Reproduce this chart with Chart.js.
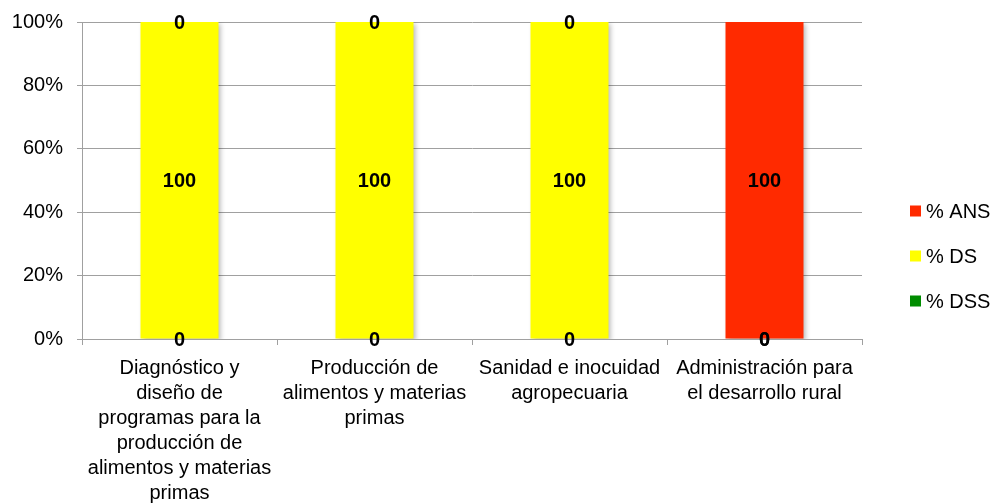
<!DOCTYPE html>
<html>
<head>
<meta charset="utf-8">
<script src="https://cdn.jsdelivr.net/npm/chart.js@4"></script>
<style>
  html, body { margin: 0; padding: 0; background: #fff; }
  #grafico { display: block; }
</style>
</head>
<body>
<canvas id="grafico" width="998" height="503"></canvas>
<script>
// datos
const categorias = [
  ["Diagnóstico y", "diseño de", "programas para la", "producción de", "alimentos y materias", "primas"],
  ["Producción de", "alimentos y materias", "primas"],
  ["Sanidad e inocuidad", "agropecuaria"],
  ["Administración para", "el desarrollo rural"]
];
const serieDSS = [0, 0, 0, 0];
const serieDS = [100, 100, 100, 0];
const serieANS = [0, 0, 0, 100];
const ticksY = [0, 20, 40, 60, 80, 100];

const FUENTE = "'Liberation Sans', Arial, Helvetica, sans-serif";
const GRIS = "#a0a0a0";

// sombra suave de las barras
const sombraBarras = {
  id: "sombraBarras",
  beforeDatasetDraw(chart) {
    const ctx = chart.ctx;
    ctx.save();
    ctx.shadowColor = "rgba(0,0,0,0.28)";
    ctx.shadowBlur = 5;
    ctx.shadowOffsetX = 2;
    ctx.shadowOffsetY = 2;
  },
  afterDatasetDraw(chart) {
    chart.ctx.restore();
  }
};

// etiquetas con el valor de cada segmento
const etiquetas = {
  id: "etiquetas",
  afterDatasetsDraw(chart) {
    const ctx = chart.ctx;
    ctx.save();
    ctx.font = "bold 20px " + FUENTE;
    ctx.fillStyle = "#000";
    ctx.textAlign = "center";
    ctx.textBaseline = "middle";
    chart.data.datasets.forEach((ds, i) => {
      const meta = chart.getDatasetMeta(i);
      meta.data.forEach((barra, j) => {
        const y = (barra.y + barra.base) / 2;
        ctx.fillText(String(ds.data[j]), barra.x, y + 1);
      });
    });
    ctx.restore();
  }
};

// leyenda a la derecha (orden inverso, como en el original)
const leyenda = {
  id: "leyenda",
  afterDraw(chart) {
    const ctx = chart.ctx;
    const lista = chart.data.datasets.slice().reverse();
    ctx.save();
    ctx.font = "20px " + FUENTE;
    ctx.textBaseline = "middle";
    ctx.textAlign = "left";
    lista.forEach((ds, k) => {
      const y = 211 + k * 45;
      ctx.fillStyle = ds.backgroundColor;
      ctx.fillRect(910, y - 5.5, 11, 11);
      ctx.fillStyle = "#000";
      ctx.fillText(ds.label, 926, y + 1);
    });
    ctx.restore();
  }
};

new Chart(document.getElementById("grafico"), {
  type: "bar",
  data: {
    labels: categorias,
    datasets: [
      { label: "% DSS", data: serieDSS, backgroundColor: "#008c00" },
      { label: "% DS", data: serieDS, backgroundColor: "#ffff00" },
      { label: "% ANS", data: serieANS, backgroundColor: "#ff2a00" }
    ]
  },
  options: {
    responsive: false,
    animation: false,
    barPercentage: 0.8,
    categoryPercentage: 0.5,
    layout: { padding: { top: 22, right: 136, left: 0, bottom: 0 } },
    plugins: {
      legend: { display: false },
      tooltip: { enabled: false }
    },
    scales: {
      x: {
        stacked: true,
        afterFit(scale) { scale.height = 164; },
        grid: {
          offset: true,
          drawOnChartArea: false,
          drawTicks: true,
          tickLength: 6,
          color: GRIS
        },
        border: { color: GRIS, width: 1 },
        ticks: {
          color: "#000",
          font: { family: FUENTE, size: 20, lineHeight: 1.25 },
          padding: 11,
          maxRotation: 0,
          autoSkip: false
        }
      },
      y: {
        stacked: true,
        min: 0,
        max: 100,
        afterFit(scale) {
          scale.width = 82;
          scale.paddingTop = 0;
          scale.paddingBottom = 0;
        },
        afterBuildTicks(scale) { scale.ticks = ticksY.map(v => ({ value: v })); },
        grid: { color: GRIS, tickLength: 5 },
        border: { color: GRIS, width: 1 },
        ticks: {
          color: "#000",
          font: { family: FUENTE, size: 20 },
          padding: 14,
          callback: v => v + "%"
        }
      }
    }
  },
  plugins: [sombraBarras, etiquetas, leyenda]
});
</script>
</body>
</html>
